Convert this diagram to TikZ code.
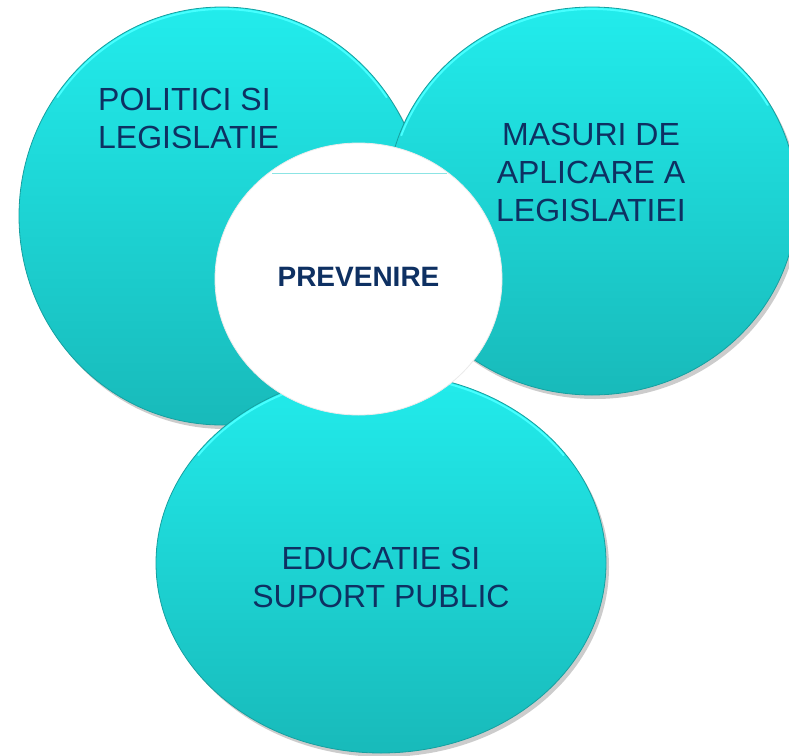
\documentclass[tikz,border=0pt]{standalone}
\usepackage{fontspec}
\setmainfont{Liberation Sans}
\usetikzlibrary{shapes.geometric}
\definecolor{navy}{RGB}{14,48,98}
\definecolor{cyantop}{RGB}{34,236,236}
\definecolor{cyanbot}{RGB}{24,186,186}
\definecolor{rim}{RGB}{22,160,160}
\definecolor{rimlight}{RGB}{70,255,255}
\definecolor{faintline}{RGB}{140,228,228}
\tikzset{
  disc/.style={ellipse, inner sep=0pt, top color=cyantop, bottom color=cyanbot, draw=rim, line width=0.8pt},
  discshadow/.style={ellipse, inner sep=0pt, fill=black, opacity=0.2},
  centerdisc/.style={ellipse, inner sep=0pt, fill=white, draw=black!8, line width=0.8pt},
  highlight/.style={draw=rimlight, line width=2pt, line cap=round},
  txt/.style={font=\fontsize{32}{38}\selectfont, text=navy, inner sep=0pt},
  centertxt/.style={font=\fontsize{28}{33}\selectfont\bfseries, text=navy, inner sep=0pt},
}
\begin{document}
\begin{tikzpicture}[x=1pt,y=-1pt]
\useasboundingbox (0,0) rectangle (789,755);
\clip (0,0) rectangle (789,755);
% left disc
\node[discshadow, minimum width=406pt, minimum height=418pt] (s1) at (225,220) {};
\node[disc, minimum width=406pt, minimum height=418pt] (c1) at (222,216) {};
\draw[highlight] (222,216) ++(215:201 and 207) arc[start angle=215, end angle=325, x radius=201, y radius=207];
% right disc
\node[discshadow, minimum width=410pt, minimum height=388pt] (s2) at (595,205) {};
\node[disc, minimum width=410pt, minimum height=388pt] (c2) at (592,201) {};
\draw[highlight] (592,201) ++(200:203 and 192) arc[start angle=200, end angle=330, x radius=203, y radius=192];
% bottom disc
\node[discshadow, minimum width=450pt, minimum height=380pt] (s3) at (384,567) {};
\node[disc, minimum width=450pt, minimum height=380pt] (c3) at (381,563) {};
\draw[highlight] (381,563) ++(215:223 and 188) arc[start angle=215, end angle=325, x radius=223, y radius=188];
% centre disc
\node[centerdisc, minimum width=287pt, minimum height=272pt] (c0) at (358.5,279) {};
\coordinate (la) at (272,173);
\coordinate (lb) at (447,173);
\draw[faintline, line width=0.6pt] (la) -- (lb);
% texts
\node[txt, align=left, anchor=west] (t1) at (98,118.5) {POLITICI SI\\LEGISLATIE};
\node[txt, align=center] (t2) at (591,172) {MASURI DE\\APLICARE A\\LEGISLATIEI};
\node[txt, align=center] (t3) at (381,577) {EDUCATIE SI\\SUPORT PUBLIC};
\node[centertxt] (t0) at (358.5,277) {PREVENIRE};
\end{tikzpicture}
\end{document}
